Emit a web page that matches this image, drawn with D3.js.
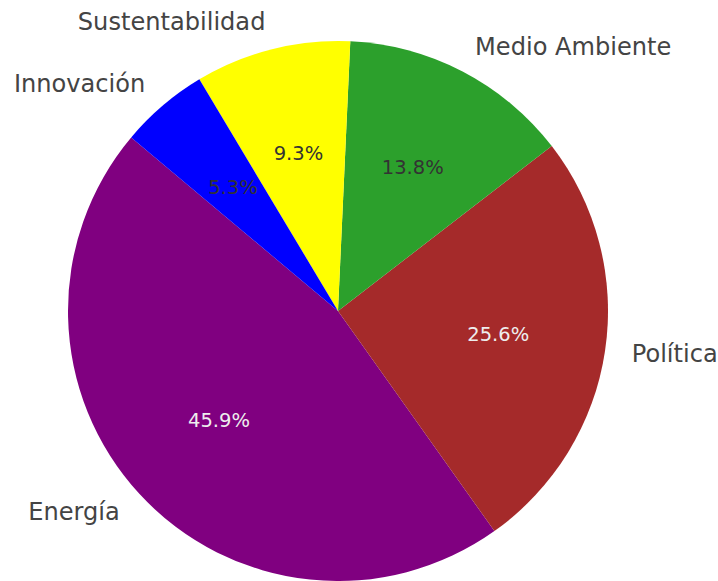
<!DOCTYPE html>
<html lang="es">
<head>
<meta charset="UTF-8">
<title>Pie</title>
<script src="https://d3js.org/d3.v7.min.js"></script>
<style>
  body { margin: 0; background: #fff; }
  svg { display: block; font-family: "DejaVu Sans", sans-serif; }
</style>
</head>
<body>
<div id="chart"></div>
<script>
    const categories = ["Energía", "Política", "Medio Ambiente", "Sustentabilidad", "Innovación"];
    const shares = [45.9, 25.6, 13.8, 9.3, 5.3];
    const colors = ["#800080", "#a52a2a", "#2ca02c", "#ffff00", "#0000ff"];
    const pctColors = ["#eeeeee", "#eeeeee", "#333333", "#333333", "#333333"];

    const width = 718, height = 581;
    const cx = 338, cy = 311, r = 270;

    const svg = d3.select("#chart").append("svg")
        .attr("width", width)
        .attr("height", height);

    const g = svg.append("g").attr("transform", `translate(${cx},${cy})`);

    // matplotlib style: counterclockwise from 140deg
    const start = (90 - 140) * Math.PI / 180;
    const pie = d3.pie().sort(null)
        .startAngle(start)
        .endAngle(start - 2 * Math.PI);
    const arcs = pie(shares);

    const arc = d3.arc().innerRadius(0).outerRadius(r);

    g.selectAll("path")
        .data(arcs)
        .enter()
        .append("path")
        .attr("d", arc)
        .attr("fill", (d, i) => colors[i]);

    const mid = d => (d.startAngle + d.endAngle) / 2;

    g.selectAll("text.label")
        .data(arcs)
        .enter()
        .append("text")
        .attr("class", "label")
        .attr("x", d => 1.1 * r * Math.sin(mid(d)))
        .attr("y", d => -1.1 * r * Math.cos(mid(d)))
        .attr("dy", "0.3em")
        .attr("text-anchor", d => Math.sin(mid(d)) < 0 ? "end" : "start")
        .attr("font-size", 24.1)
        .attr("fill", "#444")
        .text((d, i) => categories[i]);

    g.selectAll("text.pct")
        .data(arcs)
        .enter()
        .append("text")
        .attr("class", "pct")
        .attr("x", d => 0.6 * r * Math.sin(mid(d)))
        .attr("y", d => -0.6 * r * Math.cos(mid(d)))
        .attr("dy", "0.33em")
        .attr("text-anchor", "middle")
        .attr("font-size", 19.5)
        .attr("fill", (d, i) => pctColors[i])
        .text(d => d.data.toFixed(1) + "%");
</script>
</body>
</html>
